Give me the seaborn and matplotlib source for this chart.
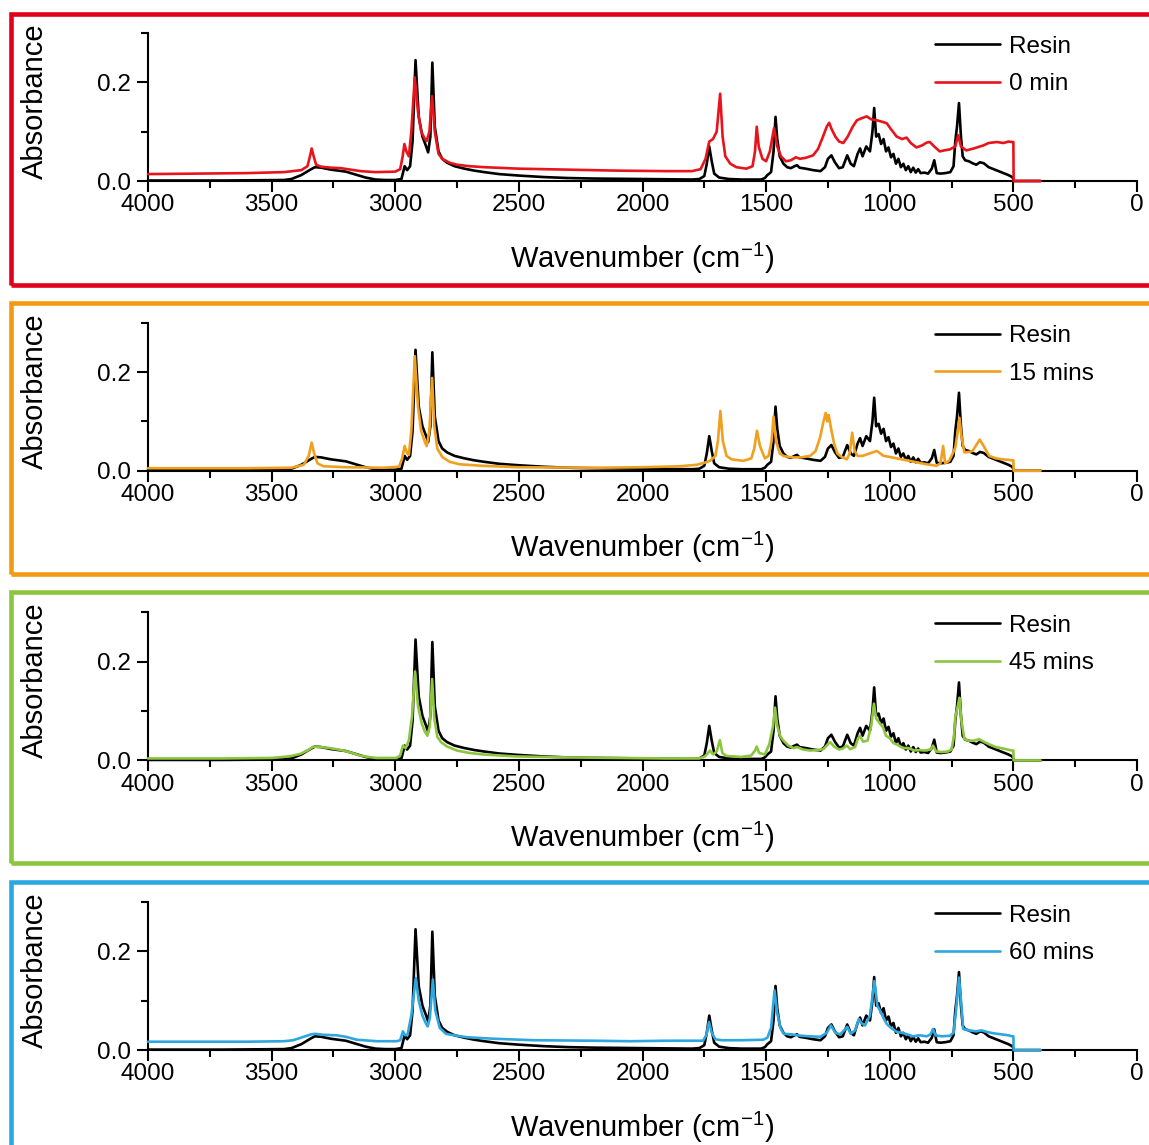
import numpy as np
import pandas as pd
import matplotlib
matplotlib.use('Agg')
import matplotlib.pyplot as plt
import seaborn as sns
from matplotlib.patches import Rectangle
from matplotlib.lines import Line2D
from matplotlib.ticker import MultipleLocator

# ---------------- data ----------------
resin_wn = [4000, 3700, 3450, 3420, 3380, 3340, 3325, 3300, 3260, 3230, 3200, 3160, 3120, 3080, 3040, 3000,
            2975, 2962, 2952, 2940, 2930, 2918, 2905, 2890, 2875, 2867, 2858, 2850, 2840, 2825, 2810, 2790,
            2760, 2720, 2680, 2640, 2580, 2500, 2400, 2300, 2200, 2000, 1800, 1770, 1750, 1740, 1730, 1720,
            1710, 1690, 1650, 1600, 1520, 1505, 1495, 1480, 1470, 1462, 1455, 1445, 1430, 1415, 1400, 1385,
            1375, 1365, 1340, 1310, 1280, 1262, 1250, 1236, 1222, 1205, 1190, 1172, 1158, 1145, 1130, 1120,
            1110, 1095, 1080, 1070, 1063, 1055, 1045, 1035, 1025, 1015, 1005, 995, 985, 975, 965, 955, 945,
            935, 925, 915, 905, 895, 885, 875, 860, 845, 830, 820, 810, 795, 775, 755, 742, 735, 728, 720,
            712, 705, 695, 680, 665, 650, 635, 620, 600, 580, 560, 540, 520, 505, 500, 499, 390]
resin_abs = [0.001, 0.001, 0.002, 0.004, 0.012, 0.024, 0.028, 0.027, 0.023, 0.021, 0.019, 0.013, 0.007, 0.003, 0.002, 0.002,
             0.004, 0.030, 0.022, 0.030, 0.080, 0.245, 0.130, 0.090, 0.070, 0.058, 0.090, 0.240, 0.110, 0.060, 0.045, 0.037,
             0.030, 0.025, 0.021, 0.018, 0.014, 0.011, 0.008, 0.006, 0.005, 0.004, 0.003, 0.004, 0.010, 0.035, 0.070, 0.040,
             0.015, 0.007, 0.004, 0.003, 0.003, 0.006, 0.012, 0.018, 0.060, 0.130, 0.085, 0.050, 0.035, 0.028, 0.026, 0.030,
             0.032, 0.027, 0.025, 0.022, 0.020, 0.028, 0.045, 0.052, 0.038, 0.026, 0.028, 0.052, 0.035, 0.030, 0.055, 0.066,
             0.050, 0.070, 0.060, 0.100, 0.148, 0.090, 0.095, 0.075, 0.085, 0.060, 0.068, 0.048, 0.055, 0.035, 0.045, 0.028, 0.035,
             0.022, 0.030, 0.018, 0.027, 0.017, 0.024, 0.016, 0.017, 0.015, 0.025, 0.042, 0.016, 0.015, 0.016, 0.018, 0.030, 0.080, 0.110, 0.158,
             0.090, 0.050, 0.042, 0.040, 0.036, 0.033, 0.038, 0.036, 0.028, 0.024, 0.020, 0.016, 0.012, 0.008, 0.004, 0.0, 0.0]

min0_wn = [4000, 3800, 3600, 3450, 3380, 3355, 3345, 3338, 3330, 3320, 3300, 3260, 3220, 3180, 3140, 3080, 3000,
           2980, 2970, 2963, 2955, 2945, 2935, 2921, 2908, 2895, 2880, 2873, 2862, 2851, 2840, 2825, 2810, 2780,
           2750, 2700, 2640, 2500, 2300, 2100, 1900, 1800, 1765, 1745, 1730, 1715, 1700, 1686, 1676, 1665, 1645,
           1620, 1580, 1555, 1545, 1538, 1530, 1515, 1500, 1485, 1468, 1455, 1440, 1420, 1400, 1380, 1363, 1340,
           1310, 1290, 1270, 1255, 1245, 1235, 1220, 1205, 1188, 1170, 1150, 1133, 1115, 1093, 1075, 1052, 1030,
           1012, 995, 972, 950, 932, 915, 892, 870, 850, 838, 820, 798, 780, 757, 735, 723, 712, 690, 660, 622,
           600, 567, 540, 520, 506, 500, 499, 390]
min0_abs = [0.014, 0.015, 0.016, 0.018, 0.022, 0.030, 0.050, 0.066, 0.050, 0.033, 0.029, 0.027, 0.026, 0.023, 0.020, 0.018, 0.019,
            0.024, 0.050, 0.075, 0.060, 0.050, 0.100, 0.210, 0.140, 0.100, 0.085, 0.081, 0.100, 0.172, 0.100, 0.055, 0.045, 0.037,
            0.033, 0.030, 0.028, 0.025, 0.023, 0.021, 0.020, 0.020, 0.024, 0.045, 0.080, 0.085, 0.100, 0.177, 0.090, 0.050, 0.035,
            0.028, 0.025, 0.030, 0.060, 0.110, 0.070, 0.045, 0.040, 0.060, 0.107, 0.070, 0.050, 0.040, 0.042, 0.048, 0.045, 0.047,
            0.052, 0.065, 0.090, 0.110, 0.118, 0.105, 0.090, 0.080, 0.077, 0.090, 0.110, 0.123, 0.127, 0.131, 0.125, 0.123, 0.120,
            0.117, 0.105, 0.090, 0.085, 0.088, 0.077, 0.068, 0.072, 0.078, 0.079, 0.070, 0.060, 0.062, 0.064, 0.070, 0.093, 0.070, 0.062, 0.066, 0.072,
            0.077, 0.079, 0.077, 0.080, 0.079, 0.079, 0.0, 0.0]

min15_wn = [4000, 3600, 3420, 3370, 3350, 3338, 3328, 3315, 3290, 3200, 3050, 2985, 2972, 2962, 2952, 2945, 2935,
            2921, 2908, 2895, 2880, 2873, 2862, 2851, 2842, 2830, 2810, 2780, 2740, 2650, 2500, 2200, 2000, 1850,
            1780, 1750, 1727, 1705, 1695, 1685, 1675, 1660, 1640, 1592, 1560, 1548, 1537, 1525, 1505, 1490, 1478,
            1470, 1460, 1445, 1430, 1410, 1390, 1360, 1322, 1300, 1282, 1268, 1259, 1253, 1247, 1238, 1225, 1212,
            1201, 1174, 1162, 1152, 1142, 1130, 1110, 1093, 1070, 1052, 1025, 1000, 972, 940, 892, 850, 811, 795,
            784, 776, 760, 745, 735, 725, 718, 710, 698, 680, 665, 650, 636, 620, 598, 570, 544, 520, 506, 500, 499, 390]
min15_abs = [0.005, 0.005, 0.006, 0.012, 0.030, 0.057, 0.035, 0.015, 0.009, 0.007, 0.006, 0.008, 0.025, 0.050, 0.035, 0.032, 0.080,
             0.232, 0.130, 0.080, 0.058, 0.050, 0.080, 0.188, 0.090, 0.045, 0.028, 0.018, 0.013, 0.010, 0.007, 0.006, 0.007, 0.009,
             0.012, 0.016, 0.020, 0.030, 0.060, 0.121, 0.060, 0.030, 0.023, 0.020, 0.025, 0.045, 0.081, 0.050, 0.025, 0.030, 0.060,
             0.110, 0.060, 0.035, 0.030, 0.028, 0.027, 0.027, 0.030, 0.040, 0.067, 0.100, 0.117, 0.100, 0.113, 0.087, 0.055, 0.035,
             0.030, 0.023, 0.035, 0.077, 0.040, 0.030, 0.030, 0.033, 0.037, 0.040, 0.030, 0.028, 0.025, 0.022, 0.017, 0.013, 0.010, 0.015,
             0.050, 0.015, 0.020, 0.035, 0.047, 0.080, 0.107, 0.070, 0.037, 0.038, 0.040, 0.052, 0.063, 0.050, 0.030, 0.025, 0.023, 0.022, 0.021, 0.021, 0.0, 0.0]

min45_wn = [4000, 3700, 3500, 3454, 3420, 3385, 3355, 3331, 3300, 3265, 3230, 3211, 3180, 3144, 3110, 3076, 2995,
            2980, 2969, 2958, 2945, 2932, 2920, 2908, 2893, 2880, 2870, 2860, 2851, 2842, 2830, 2815, 2790, 2750,
            2700, 2644, 2509, 2300, 2100, 1900, 1770, 1748, 1735, 1727, 1715, 1700, 1687, 1677, 1660, 1600, 1560,
            1545, 1538, 1528, 1505, 1487, 1472, 1464, 1455, 1442, 1430, 1410, 1390, 1375, 1350, 1322, 1290, 1268,
            1250, 1241, 1225, 1205, 1190, 1174, 1160, 1140, 1128, 1120, 1108, 1090, 1075, 1064, 1055, 1040, 1027,
            1015, 1000, 985, 970, 946, 925, 900, 880, 860, 835, 825, 812, 790, 765, 750, 740, 735, 725, 718, 710,
            698, 680, 660, 638, 620, 600, 571, 540, 515, 506, 500, 499, 390]
min45_abs = [0.004, 0.004, 0.005, 0.007, 0.009, 0.013, 0.020, 0.028, 0.027, 0.025, 0.022, 0.020, 0.016, 0.010, 0.007, 0.005, 0.005,
             0.010, 0.030, 0.025, 0.040, 0.090, 0.180, 0.110, 0.075, 0.058, 0.050, 0.070, 0.165, 0.085, 0.048, 0.037, 0.028, 0.020,
             0.015, 0.012, 0.008, 0.006, 0.005, 0.004, 0.004, 0.008, 0.015, 0.020, 0.012, 0.018, 0.041, 0.015, 0.009, 0.007, 0.010,
             0.020, 0.028, 0.015, 0.012, 0.033, 0.070, 0.107, 0.070, 0.048, 0.040, 0.030, 0.025, 0.027, 0.022, 0.020, 0.021, 0.023,
             0.033, 0.037, 0.028, 0.022, 0.024, 0.030, 0.023, 0.027, 0.045, 0.050, 0.038, 0.040, 0.070, 0.115, 0.085, 0.075, 0.067,
             0.050, 0.045, 0.035, 0.032, 0.025, 0.025, 0.020, 0.021, 0.020, 0.022, 0.030, 0.018, 0.017, 0.018, 0.022, 0.050, 0.087, 0.110, 0.127, 0.080,
             0.043, 0.040, 0.040, 0.043, 0.038, 0.033, 0.027, 0.024, 0.021, 0.020, 0.020, 0.0, 0.0]

min60_wn = [4000, 3800, 3600, 3450, 3413, 3370, 3340, 3324, 3290, 3237, 3200, 3156, 3075, 2994, 2980, 2969, 2960,
            2950, 2935, 2917, 2905, 2890, 2875, 2869, 2860, 2848, 2838, 2820, 2795, 2750, 2708, 2600, 2438, 2200,
            2050, 1900, 1770, 1755, 1742, 1731, 1720, 1705, 1680, 1600, 1512, 1495, 1480, 1466, 1455, 1442, 1429,
            1400, 1375, 1330, 1280, 1255, 1238, 1220, 1200, 1172, 1158, 1140, 1125, 1115, 1100, 1080, 1062, 1050,
            1039, 1025, 1012, 995, 972, 950, 930, 906, 880, 850, 835, 825, 815, 790, 757, 742, 733, 720, 710, 703,
            680, 650, 630, 609, 580, 550, 520, 505, 500, 499, 390]
min60_abs = [0.017, 0.017, 0.017, 0.018, 0.020, 0.027, 0.032, 0.033, 0.031, 0.030, 0.027, 0.021, 0.018, 0.018, 0.020, 0.038, 0.030,
             0.032, 0.070, 0.146, 0.100, 0.070, 0.053, 0.048, 0.065, 0.143, 0.080, 0.045, 0.033, 0.029, 0.026, 0.023, 0.020, 0.019,
             0.018, 0.019, 0.019, 0.019, 0.030, 0.057, 0.035, 0.022, 0.020, 0.020, 0.021, 0.025, 0.045, 0.121, 0.075, 0.045, 0.033,
             0.032, 0.030, 0.028, 0.027, 0.035, 0.050, 0.035, 0.032, 0.047, 0.033, 0.040, 0.063, 0.055, 0.050, 0.070, 0.140, 0.090,
             0.080, 0.065, 0.053, 0.045, 0.037, 0.035, 0.032, 0.028, 0.030, 0.028, 0.032, 0.043, 0.030, 0.028, 0.029, 0.035, 0.075, 0.147, 0.090, 0.043,
             0.040, 0.038, 0.040, 0.037, 0.034, 0.032, 0.030, 0.028, 0.028, 0.0, 0.0]

sample_labels = ['0 min', '15 mins', '45 mins', '60 mins']
sample_wns = [min0_wn, min15_wn, min45_wn, min60_wn]
sample_abs = [min0_abs, min15_abs, min45_abs, min60_abs]
line_colors = ['#E8141C', '#F0A01E', '#8DC53E', '#2EA7DF']
frame_colors = ['#E3001B', '#F39A13', '#8CC63F', '#2AA9E1']

# ---------------- style ----------------
sns.set_style('ticks')
plt.rcParams['font.family'] = ['Liberation Sans', 'DejaVu Sans']
plt.rcParams['text.color'] = 'black'
plt.rcParams['axes.labelcolor'] = 'black'
plt.rcParams['mathtext.fontset'] = 'custom'
plt.rcParams['mathtext.rm'] = 'Liberation Sans'
plt.rcParams['mathtext.it'] = 'Liberation Sans:italic'
plt.rcParams['mathtext.bf'] = 'Liberation Sans:bold'

W, H = 1149, 1145
fig = plt.figure(figsize=(W / 100, H / 100), dpi=100)

LW = 1.9
step = 289.7
for i in range(4):
    label = sample_labels[i]
    top = 33 + i * step
    ax = fig.add_axes([148 / W, 1 - (top + 148) / H, (1137 - 148) / W, 148 / H])
    df = pd.concat([
        pd.DataFrame({'wn': resin_wn, 'abs': resin_abs, 'series': 'Resin'}),
        pd.DataFrame({'wn': sample_wns[i], 'abs': sample_abs[i], 'series': label}),
    ], ignore_index=True)
    sns.lineplot(data=df, x='wn', y='abs', hue='series', hue_order=['Resin', label],
                 palette={'Resin': 'black', label: line_colors[i]}, sort=False,
                 estimator=None, lw=LW, ax=ax, legend=False)
    for ln in ax.lines:
        ln.set_clip_on(False)
        ln.set_zorder(3)
    ax.set_xlim(4000, 0)
    ax.set_ylim(0, 0.3)
    ax.xaxis.set_major_locator(MultipleLocator(500))
    ax.xaxis.set_minor_locator(MultipleLocator(250))
    ax.yaxis.set_major_locator(MultipleLocator(0.2))
    ax.yaxis.set_minor_locator(MultipleLocator(0.1))
    ax.xaxis.set_major_formatter(matplotlib.ticker.FuncFormatter(lambda v, p: f'{int(round(v))}'))
    ax.yaxis.set_major_formatter(matplotlib.ticker.FuncFormatter(lambda v, p: f'{v:.1f}'))
    for s in ['top', 'right']:
        ax.spines[s].set_visible(False)
    for s in ['left', 'bottom']:
        ax.spines[s].set_linewidth(1.5)
        ax.spines[s].set_color('black')
    ax.tick_params(which='major', length=8, width=1.5, labelsize=17.5, color='black', labelcolor='black')
    ax.tick_params(which='minor', length=5, width=1.5, color='black')
    ax.tick_params(axis='x', which='major', pad=1.5)
    ax.tick_params(axis='y', which='major', pad=4.5)
    ax.set_facecolor('none')
    ax.set_xlabel('Wavenumber (cm$^{-1}$)', fontsize=21, va='center', color='black')
    ax.xaxis.set_label_coords(0.5, -77 / 148)
    ax.set_ylabel('Absorbance', fontsize=21, va='center', color='black')
    ax.yaxis.set_label_coords(-(148 - 35) / 989, (181 - 101) / 148)
    handles = [Line2D([], [], color='black', lw=LW), Line2D([], [], color=line_colors[i], lw=LW)]
    ax.legend(handles, ['Resin', label], loc='upper left', bbox_to_anchor=(0.796, 0.983),
              frameon=False, fontsize=17.5, handlelength=2.65, handletextpad=0.4,
              labelspacing=0.64, borderpad=0, borderaxespad=0)

    ftop = 14 + i * (step - 0.5)
    fig.add_artist(Rectangle((10.5 / W, 1 - (ftop + 270.5) / H), (1250 - 10.5) / W, 270.5 / H,
                             transform=fig.transFigure, fill=False, edgecolor=frame_colors[i],
                             lw=3.3, clip_on=False))

fig.savefig('out.png', dpi=100, facecolor='white')
